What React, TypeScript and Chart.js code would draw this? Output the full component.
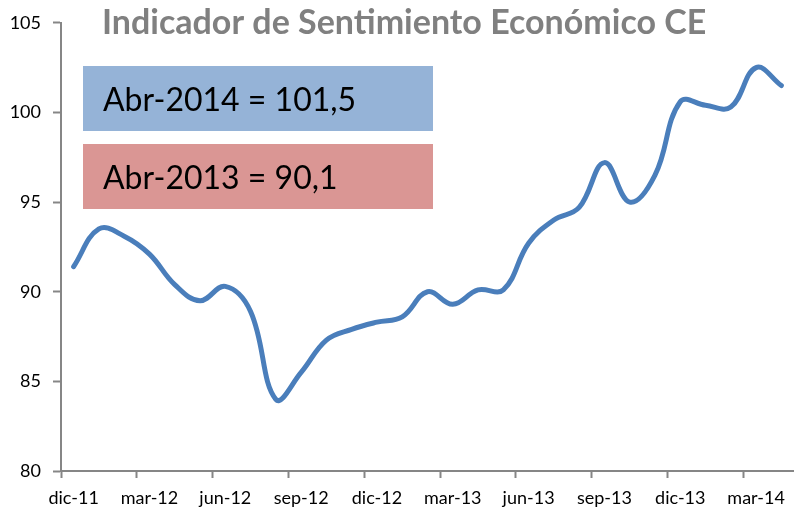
import React, { useEffect, useRef } from "react";
import { Chart, registerables } from "chart.js";

Chart.register(...registerables);

const months = [
  "dic-11", "ene-12", "feb-12", "mar-12", "abr-12", "may-12", "jun-12", "jul-12", "ago-12", "sep-12",
  "oct-12", "nov-12", "dic-12", "ene-13", "feb-13", "mar-13", "abr-13", "may-13", "jun-13", "jul-13",
  "ago-13", "sep-13", "oct-13", "nov-13", "dic-13", "ene-14", "feb-14", "mar-14", "abr-14",
];

const esiValues = [
  91.4, 93.5, 93.1, 92.1, 90.4, 89.5, 90.3, 88.9, 84.0, 85.5,
  87.3, 87.9, 88.3, 88.6, 90.0, 89.3, 90.1, 90.1, 92.7, 94.0,
  94.7, 97.2, 95.0, 96.5, 100.6, 100.4, 100.3, 102.5, 101.5,
];

const yTicks = [80, 85, 90, 95, 100, 105];

const titleText = "Indicador de Sentimiento Económico CE";
const boxTexts = ["Abr-2014 = 101,5", "Abr-2013 = 90,1"];

const FONT = "Lato, 'Open Sans', sans-serif";

const overlayPlugin = {
  id: "overlay",
  afterDraw(chart: any) {
    const ctx = chart.ctx;
    ctx.save();
    ctx.fillStyle = "#808080";
    ctx.font = `bold 34px ${FONT}`;
    ctx.textBaseline = "alphabetic";
    ctx.textAlign = "left";
    ctx.fillText(titleText, 102, 34);

    const boxColors = ["#95B3D7", "#DA9694"];
    const boxTops = [66, 144];
    boxTexts.forEach((t, i) => {
      ctx.fillStyle = boxColors[i];
      ctx.fillRect(83, boxTops[i], 350, 65);
      ctx.fillStyle = "#000000";
      ctx.font = `32px ${FONT}`;
      ctx.fillText(t, 103, boxTops[i] + 45);
    });
    ctx.restore();
  },
};

export default function App() {
  const ref = useRef<HTMLCanvasElement | null>(null);

  useEffect(() => {
    if (!ref.current) return;
    const chart = new Chart(ref.current, {
      type: "line",
      data: {
        labels: months,
        datasets: [
          {
            data: esiValues,
            borderColor: "#4A7EBB",
            borderWidth: 5,
            pointRadius: 0,
            tension: 0.4,
            fill: false,
            borderCapStyle: "round",
            borderJoinStyle: "round",
          },
        ],
      },
      options: {
        animation: false,
        responsive: false,
        maintainAspectRatio: false,
        layout: { padding: { top: 19, right: 0, left: 0, bottom: 0 } },
        plugins: {
          legend: { display: false },
          tooltip: { enabled: false },
          title: { display: false },
        },
        scales: {
          x: {
            type: "category",
            offset: true,
            afterFit: (s: any) => {
              s.height = 38;
            },
            border: { display: true, color: "#868686", width: 2 },
            grid: {
              offset: true,
              drawOnChartArea: false,
              drawTicks: true,
              tickLength: 7,
              tickWidth: 2,
              color: (c: any) => (c.index % 3 === 0 ? "#868686" : "rgba(0,0,0,0)"),
            },
            ticks: {
              autoSkip: false,
              maxRotation: 0,
              minRotation: 0,
              padding: 9,
              color: "#000000",
              font: { family: FONT, size: 18 },
              callback: (_v: any, i: number) => (i % 3 === 0 ? months[i] : ""),
            },
          },
          y: {
            min: 80,
            max: 105,
            afterFit: (s: any) => {
              s.width = 61;
            },
            afterBuildTicks: (s: any) => {
              s.ticks = yTicks.map((v) => ({ value: v }));
            },
            border: { display: true, color: "#868686", width: 2 },
            grid: {
              drawOnChartArea: false,
              drawTicks: true,
              tickLength: 8,
              tickWidth: 2,
              color: "#868686",
            },
            ticks: {
              padding: 12,
              color: "#000000",
              font: { family: FONT, size: 18 },
            },
          },
        },
      },
      plugins: [overlayPlugin],
    });
    return () => chart.destroy();
  }, []);

  return (
    <div style={{ position: "fixed", left: 0, top: 0, width: 794, height: 509, background: "#ffffff" }}>
      <canvas ref={ref} width={794} height={509} style={{ width: 794, height: 509, display: "block" }} />
    </div>
  );
}
